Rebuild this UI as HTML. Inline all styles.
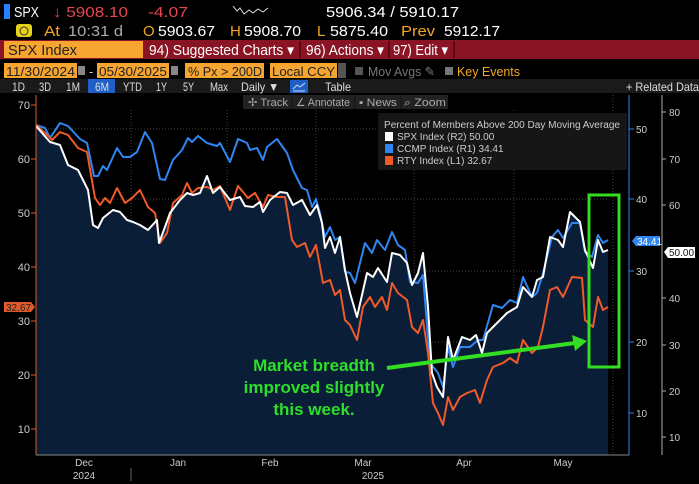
<!DOCTYPE html>
<html><head><meta charset="utf-8"><style>
html,body{margin:0;padding:0;background:#000;width:699px;height:484px;overflow:hidden}
svg{display:block}
text{font-family:"Liberation Sans",sans-serif}
</style></head><body>
<svg width="699" height="484" viewBox="0 0 699 484" xmlns="http://www.w3.org/2000/svg">
<rect width="699" height="484" fill="#000"/>
<!-- header row 1 -->
<rect x="4" y="4" width="6" height="15" fill="#2a7fff"/>
<g font-size="15" lengthAdjust="spacingAndGlyphs">
<text x="14" y="17" fill="#fff" textLength="25" lengthAdjust="spacingAndGlyphs">SPX</text>
<text x="53" y="17" fill="#e8454f" textLength="75" lengthAdjust="spacingAndGlyphs">↓ 5908.10</text>
<text x="148" y="17" fill="#e8454f" textLength="40" lengthAdjust="spacingAndGlyphs">-4.07</text>
<text x="326" y="17" fill="#fff" textLength="133" lengthAdjust="spacingAndGlyphs">5906.34 / 5910.17</text>
</g>
<polyline points="233,6 237,11 240,8 244,14 249,10 253,13 258,9 263,12 268,8" fill="none" stroke="#ddd" stroke-width="1"/>
<!-- row 2 -->
<rect x="16" y="24" width="16" height="13" rx="3" fill="#e8d21a"/>
<rect x="20" y="27" width="8" height="8" rx="4" fill="none" stroke="#333"/>
<g font-size="15">
<text x="44" y="36" fill="#f4a623" textLength="16" lengthAdjust="spacingAndGlyphs">At</text>
<text x="68" y="36" fill="#aaa" textLength="55" lengthAdjust="spacingAndGlyphs">10:31 d</text>
<text x="143" y="36" fill="#f4a623">O</text>
<text x="158" y="36" fill="#fff" textLength="57" lengthAdjust="spacingAndGlyphs">5903.67</text>
<text x="230" y="36" fill="#f4a623">H</text>
<text x="244" y="36" fill="#fff" textLength="57" lengthAdjust="spacingAndGlyphs">5908.70</text>
<text x="317" y="36" fill="#f4a623">L</text>
<text x="330" y="36" fill="#fff" textLength="58" lengthAdjust="spacingAndGlyphs">5875.40</text>
<text x="401" y="36" fill="#f4a623" textLength="34" lengthAdjust="spacingAndGlyphs">Prev</text>
<text x="444" y="36" fill="#fff" textLength="56" lengthAdjust="spacingAndGlyphs">5912.17</text>
</g>
<!-- command bar -->
<rect x="0" y="40" width="699" height="19" fill="#8a1424"/>
<rect x="4" y="41" width="139" height="17" fill="#f6a531"/>
<text x="8" y="55" font-size="15" fill="#222" textLength="69" lengthAdjust="spacingAndGlyphs">SPX Index</text>
<text x="149" y="55" font-size="15" fill="#fff" textLength="145" lengthAdjust="spacingAndGlyphs">94) Suggested Charts ▾</text>
<line x1="300" y1="41" x2="300" y2="58" stroke="#5a0a14" stroke-width="2"/>
<text x="306" y="55" font-size="15" fill="#fff" textLength="78" lengthAdjust="spacingAndGlyphs">96) Actions ▾</text>
<line x1="389" y1="41" x2="389" y2="58" stroke="#5a0a14" stroke-width="2"/>
<text x="393" y="55" font-size="15" fill="#fff" textLength="55" lengthAdjust="spacingAndGlyphs">97) Edit ▾</text>
<line x1="454" y1="41" x2="454" y2="58" stroke="#5a0a14" stroke-width="2"/>
<!-- date row -->
<rect x="4" y="63" width="73" height="15" fill="#f6a531"/>
<text x="6" y="76" font-size="13" fill="#222" textLength="69" lengthAdjust="spacingAndGlyphs">11/30/2024</text>
<rect x="78" y="66" width="7" height="9" fill="#888"/>
<text x="89" y="76" font-size="13" fill="#ccc">-</text>
<rect x="97" y="63" width="72" height="15" fill="#f6a531"/>
<text x="99" y="76" font-size="13" fill="#222" textLength="68" lengthAdjust="spacingAndGlyphs">05/30/2025</text>
<rect x="171" y="66" width="7" height="9" fill="#888"/>
<rect x="185" y="63" width="79" height="15" fill="#f6a531"/>
<text x="188" y="76" font-size="13" fill="#222" textLength="74" lengthAdjust="spacingAndGlyphs">%  Px &gt; 200D</text>
<rect x="270" y="63" width="67" height="15" fill="#f6a531"/>
<text x="272" y="76" font-size="13" fill="#222" textLength="63" lengthAdjust="spacingAndGlyphs">Local CCY</text>
<rect x="338" y="63" width="8" height="15" fill="#555"/>
<rect x="355" y="67" width="8" height="8" fill="#555"/>
<text x="368" y="76" font-size="13" fill="#777" textLength="67" lengthAdjust="spacingAndGlyphs">Mov Avgs ✎</text>
<rect x="445" y="67" width="8" height="8" fill="#777"/>
<text x="457" y="76" font-size="13" fill="#f4a623" textLength="63" lengthAdjust="spacingAndGlyphs">Key Events</text>
<!-- button row -->
<rect x="0" y="79" width="699" height="14" fill="#1a1a1a"/>
<rect x="88" y="79" width="27" height="14" fill="#1e5fc8"/>
<g font-size="12" fill="#ddd">
<text x="12" y="91" textLength="13" lengthAdjust="spacingAndGlyphs">1D</text>
<text x="39" y="91" textLength="12" lengthAdjust="spacingAndGlyphs">3D</text>
<text x="66" y="91" textLength="14" lengthAdjust="spacingAndGlyphs">1M</text>
<text x="95" y="91" textLength="14" lengthAdjust="spacingAndGlyphs">6M</text>
<text x="123" y="91" textLength="19" lengthAdjust="spacingAndGlyphs">YTD</text>
<text x="156" y="91" textLength="11" lengthAdjust="spacingAndGlyphs">1Y</text>
<text x="183" y="91" textLength="11" lengthAdjust="spacingAndGlyphs">5Y</text>
<text x="210" y="91" textLength="18" lengthAdjust="spacingAndGlyphs">Max</text>
<text x="241" y="91" textLength="38" lengthAdjust="spacingAndGlyphs">Daily ▼</text>
<text x="325" y="91" textLength="26" lengthAdjust="spacingAndGlyphs">Table</text>
<text x="626" y="91" textLength="73" lengthAdjust="spacingAndGlyphs">+ Related Data</text>
</g>
<rect x="290" y="80" width="18" height="13" fill="#1e5fc8"/>
<polyline points="293,89 297,85 300,87 305,83" fill="none" stroke="#cde" />
<line x1="293" y1="91" x2="305" y2="91" stroke="#cde"/>
<!-- toolbar -->
<rect x="243" y="95" width="205" height="14" fill="#222"/>
<g stroke="#111"><line x1="292" y1="95" x2="292" y2="109"/><line x1="355" y1="95" x2="355" y2="109"/><line x1="401" y1="95" x2="401" y2="109"/></g>
<g font-size="11" fill="#aaa">
<text x="248" y="106" textLength="40" lengthAdjust="spacingAndGlyphs">✢ Track</text>
<text x="296" y="106" textLength="54" lengthAdjust="spacingAndGlyphs">∠ Annotate</text>
<text x="359" y="106" textLength="38" lengthAdjust="spacingAndGlyphs">▪ News</text>
<text x="404" y="106" textLength="42" lengthAdjust="spacingAndGlyphs">⌕ Zoom</text>
</g>

<!-- grid -->
<g stroke="#444" stroke-dasharray="1,2" stroke-width="1">
<line x1="36" y1="129" x2="608" y2="129"/><line x1="36" y1="199" x2="608" y2="199"/>
<line x1="36" y1="271" x2="608" y2="271"/><line x1="36" y1="342" x2="608" y2="342"/>
<line x1="36" y1="413" x2="608" y2="413"/>
<line x1="131" y1="110" x2="131" y2="455"/><line x1="227" y1="110" x2="227" y2="455"/>
<line x1="316" y1="110" x2="316" y2="455"/><line x1="414" y1="110" x2="414" y2="455"/>
<line x1="514" y1="110" x2="514" y2="455"/><line x1="613" y1="95" x2="613" y2="455"/>
</g>
<!-- fill under SPX -->
<polygon fill="#0b1e38" points="36,455 36,126 50,142 60,145 68,165 78,170 88,190 93,225 98,228 103,218 113,210 120,212 127,220 133,222 140,225 148,230 157,220 159,243 165,227 170,213 180,200 187,193 193,195 200,193 207,176 213,193 220,187 230,200 240,197 245,206 253,207 260,202 263,212 270,200 280,192 287,193 293,205 302,200 310,215 317,205 322,223 325,248 330,237 335,253 340,237 345,270 350,293 357,317 367,273 373,277 378,268 387,282 392,253 400,255 407,263 412,285 418,273 423,253 428,307 432,373 437,387 443,397 448,337 453,360 462,337 470,340 476,335 482,353 487,333 497,323 507,313 517,307 523,287 532,297 537,280 543,277 550,237 558,240 563,247 570,212 580,222 585,250 593,268 598,240 603,252 608,250 608,455"/>
<!-- series -->
<polyline fill="none" stroke="#2f86f0" stroke-width="2" stroke-linejoin="round" points="36,125 45,128 50,138 60,123 68,126 80,139 87,143 94,176 98,176 103,166 107,170 117,148 123,157 130,157 137,152 145,132 152,143 160,179 165,180 173,160 182,150 188,138 192,142 198,136 207,143 217,146 220,143 230,162 238,139 247,143 250,150 257,148 263,160 267,147 277,139 287,153 293,170 302,188 307,190 312,207 316,199 320,213 325,237 330,227 335,240 340,237 345,272 350,273 355,283 365,243 372,253 377,240 385,250 392,232 398,245 405,250 410,282 418,283 423,275 430,363 438,373 443,387 448,347 453,367 460,347 470,347 478,340 483,340 493,305 502,308 510,300 517,303 523,277 532,297 537,293 543,273 552,237 558,230 563,238 572,223 580,223 585,252 592,257 598,235 603,243 608,240"/>
<polyline fill="none" stroke="#f05a28" stroke-width="2" stroke-linejoin="round" points="36,125 45,133 52,140 60,132 68,135 78,148 87,152 95,198 100,205 105,198 110,203 117,188 125,203 132,198 140,190 148,207 155,213 160,243 167,233 173,203 182,195 187,183 192,193 198,188 207,187 213,190 220,186 230,210 238,186 248,198 255,193 263,207 268,195 277,197 285,197 292,240 297,247 305,243 310,257 316,245 323,283 330,280 335,295 340,290 345,320 350,325 357,340 363,307 370,297 375,307 382,297 387,310 392,283 398,293 407,300 412,327 418,333 423,320 428,353 433,403 438,413 443,425 448,397 453,410 460,397 467,393 475,390 480,403 487,380 493,367 503,363 510,358 517,363 523,340 532,353 538,347 543,327 550,290 557,287 563,297 572,277 582,278 585,320 593,327 598,297 603,310 608,307"/>
<polyline fill="none" stroke="#fff" stroke-width="2" stroke-linejoin="round" points="36,126 50,142 60,145 68,165 78,170 88,190 93,225 98,228 103,218 113,210 120,212 127,220 133,222 140,225 148,230 157,220 159,243 165,227 170,213 180,200 187,193 193,195 200,193 207,176 213,193 220,187 230,200 240,197 245,206 253,207 260,202 263,212 270,200 280,192 287,193 293,205 302,200 310,215 317,205 322,223 325,248 330,237 335,253 340,237 345,270 350,293 357,317 367,273 373,277 378,268 387,282 392,253 400,255 407,263 412,285 418,273 423,253 428,307 432,373 437,387 443,397 448,337 453,360 462,337 470,340 476,335 482,353 487,333 497,323 507,313 517,307 523,287 532,297 537,280 543,277 550,237 558,240 563,247 570,212 580,222 585,250 593,268 598,240 603,252 608,250"/>

<!-- left axis -->
<line x1="36" y1="95" x2="36" y2="455" stroke="#e05a2a" stroke-width="1"/>
<line x1="36" y1="455" x2="629" y2="455" stroke="#888"/>
<g font-size="11" fill="#ccc" text-anchor="end">
<text x="30" y="109">70</text><text x="30" y="163">60</text><text x="30" y="217">50</text><text x="30" y="271">40</text>
<text x="30" y="325">30</text><text x="30" y="379">20</text><text x="30" y="433">10</text>
</g>
<g stroke="#e05a2a"><line x1="31" y1="105" x2="36" y2="105"/><line x1="31" y1="159" x2="36" y2="159"/><line x1="31" y1="213" x2="36" y2="213"/><line x1="31" y1="267" x2="36" y2="267"/><line x1="31" y1="321" x2="36" y2="321"/><line x1="31" y1="375" x2="36" y2="375"/><line x1="31" y1="429" x2="36" y2="429"/></g>
<polygon points="4,302 31,302 35,307 31,312 4,312" fill="#e05a2a"/>
<text x="6" y="311" font-size="10" fill="#222">32.67</text>
<!-- x labels -->
<g font-size="10" fill="#ccc" text-anchor="middle">
<text x="84" y="466">Dec</text><text x="84" y="479">2024</text><text x="178" y="466">Jan</text><text x="270" y="466">Feb</text>
<text x="363" y="466">Mar</text><text x="373" y="479">2025</text><text x="464" y="466">Apr</text><text x="563" y="466">May</text>
</g>
<line x1="131" y1="468" x2="131" y2="481" stroke="#666"/>
<!-- R1 axis -->
<line x1="629" y1="95" x2="629" y2="455" stroke="#2f86f0"/>
<g stroke="#2f86f0"><line x1="629" y1="129" x2="634" y2="129"/><line x1="629" y1="199" x2="634" y2="199"/><line x1="629" y1="271" x2="634" y2="271"/><line x1="629" y1="342" x2="634" y2="342"/><line x1="629" y1="413" x2="634" y2="413"/></g>
<g font-size="10" fill="#ccc"><text x="636" y="133">50</text><text x="636" y="203">40</text><text x="636" y="275">30</text><text x="636" y="346">20</text><text x="636" y="417">10</text></g>
<polygon points="632,241 636,236 660,236 660,246 636,246" fill="#2f86f0"/>
<text x="637" y="245" font-size="10" fill="#fff">34.41</text>
<!-- R2 axis -->
<line x1="662" y1="95" x2="662" y2="455" stroke="#aaa"/>
<g font-size="10" fill="#ccc"><text x="669" y="116">80</text><text x="669" y="163">70</text><text x="669" y="209">60</text><text x="669" y="302">40</text><text x="669" y="349">30</text><text x="669" y="395">20</text><text x="669" y="441">10</text></g>
<g stroke="#aaa"><line x1="662" y1="112" x2="666" y2="112"/><line x1="662" y1="159" x2="666" y2="159"/><line x1="662" y1="205" x2="666" y2="205"/><line x1="662" y1="298" x2="666" y2="298"/><line x1="662" y1="345" x2="666" y2="345"/><line x1="662" y1="391" x2="666" y2="391"/><line x1="662" y1="437" x2="666" y2="437"/></g>
<polygon points="664,252 668,247 695,247 695,258 668,258" fill="#fff"/>
<text x="669" y="256" font-size="10" fill="#111">50.00</text>
<!-- legend -->
<rect x="378" y="113" width="249" height="57" fill="#161616"/>
<text x="384" y="128" font-size="10" fill="#ccc" textLength="236" lengthAdjust="spacingAndGlyphs">Percent of Members Above 200 Day Moving Average</text>
<rect x="385" y="132" width="8" height="9" fill="#fff"/><text x="397" y="140" font-size="10" fill="#ccc">SPX Index  (R2)   50.00</text>
<rect x="385" y="144" width="8" height="9" fill="#2f86f0"/><text x="397" y="152" font-size="10" fill="#ccc">CCMP Index  (R1) 34.41</text>
<rect x="385" y="156" width="8" height="9" fill="#f05a28"/><text x="397" y="164" font-size="10" fill="#ccc">RTY Index  (L1)   32.67</text>
<!-- annotation -->
<rect x="589" y="195" width="30" height="172" fill="none" stroke="#33dd22" stroke-width="3"/>
<line x1="387" y1="368" x2="575" y2="343" stroke="#33dd22" stroke-width="4"/>
<polygon points="587,341 572,335 575,351" fill="#33dd22"/>
<g font-size="17" font-weight="bold" fill="#2edf2a" text-anchor="middle">
<text x="314" y="371">Market breadth</text><text x="314" y="393">improved slightly</text><text x="314" y="415">this week.</text>
</g>
</svg>
</body></html>
